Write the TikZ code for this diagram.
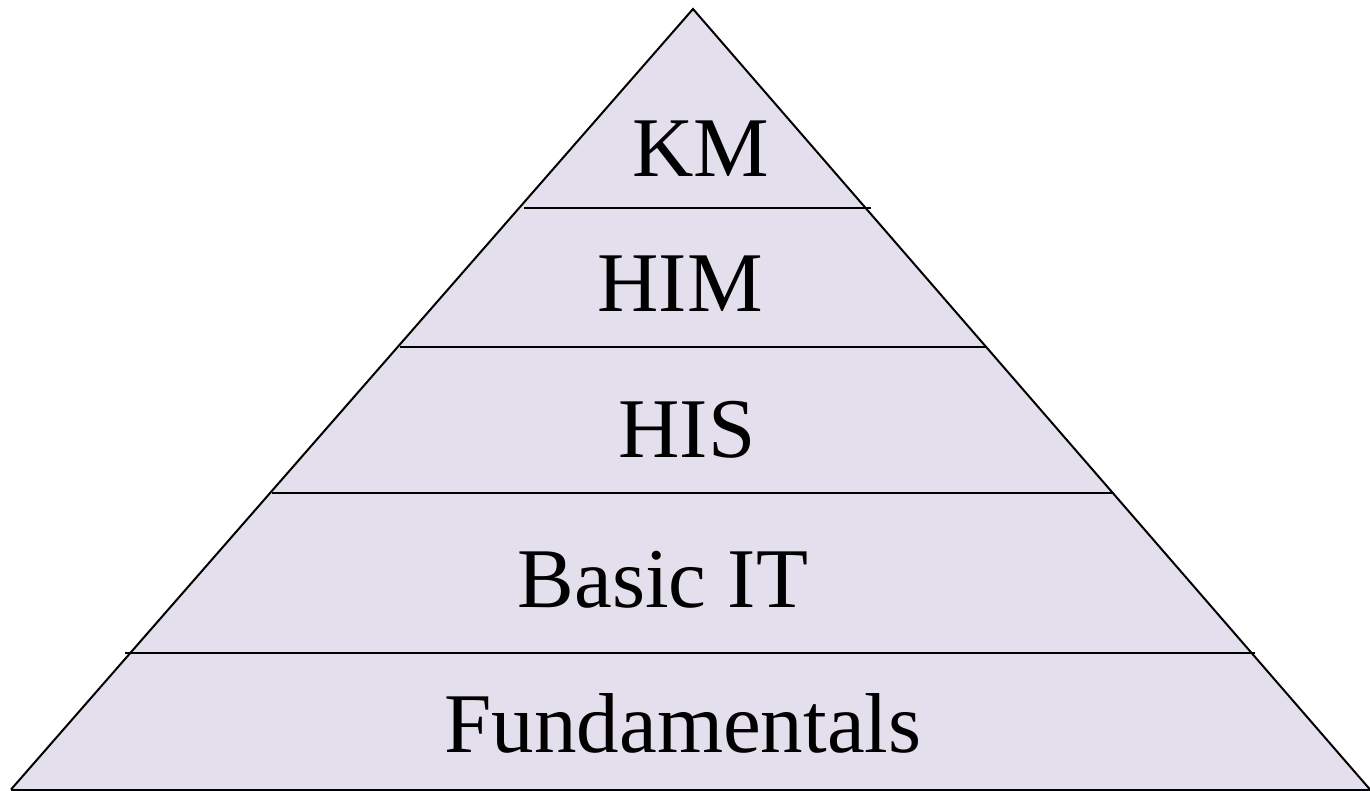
\documentclass[tikz,border=0pt]{standalone}
\usepackage{fontspec}
\setmainfont{Liberation Serif}
\definecolor{pyrfill}{RGB}{228,223,236}
\begin{document}
\begin{tikzpicture}[x=1pt,y=-1pt,
  edge/.style={draw=black,line width=2pt},
  layer/.style={anchor=base,inner sep=0pt,font=\fontsize{85}{90}\selectfont}]
\useasboundingbox (0,0) rectangle (1370,791);
\coordinate (apex) at (693,9);
\coordinate (bl) at (11,789.5);
\coordinate (br) at (1370,789.5);
\fill[pyrfill] (apex) -- (br) -- (bl) -- cycle;
\draw[edge,line join=miter] (bl) -- (apex) -- (br);
\draw[edge] (bl) -- (br);
\draw[edge] (524,208) -- (871,208);
\draw[edge] (400,347) -- (987,347);
\draw[edge] (272,493) -- (1114,493);
\draw[edge] (125,653) -- (1255,653);
\node[layer] (km) at (701,177) {KM};
\node[layer] (him) at (680,312) {HIM};
\node[layer] (his) at (687,457) {HIS};
\node[layer] (bit) at (663,607) {Basic IT};
\node[layer] (fund) at (683,752) {Fundamentals};
\end{tikzpicture}
\end{document}
